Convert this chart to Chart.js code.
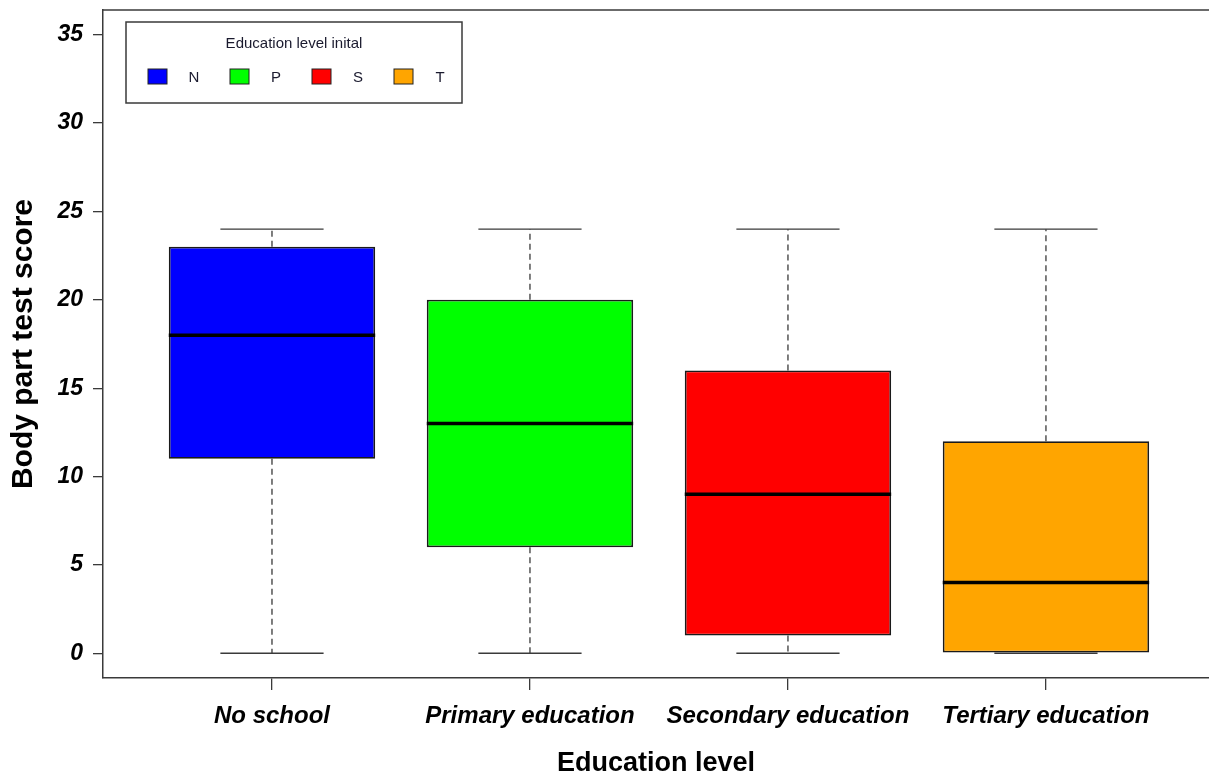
<!DOCTYPE html>
<html>
<head>
<meta charset="utf-8">
<script src="https://cdn.jsdelivr.net/npm/chart.js@4.4.1/dist/chart.umd.min.js"></script>
<style>
html, body { margin: 0; padding: 0; background: #fff; overflow: hidden; }
#wrap { width: 1209px; height: 780px; }
</style>
</head>
<body>
<div id="wrap"><canvas id="box"></canvas></div>
<script>
const categories = ["No school", "Primary education", "Secondary education", "Tertiary education"];
const initials = ["N", "P", "S", "T"];
const whiskerLow = [0, 0, 0, 0];
const lowerQuartile = [11, 6, 1, 0];
const medians = [18, 13, 9, 4];
const upperQuartile = [23, 20, 16, 12];
const whiskerHigh = [24, 24, 24, 24];
const yTicks = [0, 5, 10, 15, 20, 25, 30, 35];
const boxColors = ["#0000ff", "#00ff00", "#ff0000", "#ffa500"];
const legendTitle = "Education level inital";

const font = "'Liberation Sans', Arial, sans-serif";
const lineCol = "#3a3a3a";

// whiskers, medians, frame top and the legend box
const boxExtras = {
    id: "boxExtras",
    beforeDatasetsDraw(chart) {
        const { ctx, scales: { x, y } } = chart;
        const bars = chart.getDatasetMeta(0).data;
        ctx.save();
        ctx.strokeStyle = lineCol;
        ctx.lineWidth = 1.3;
        categories.forEach((c, i) => {
            const px = x.getPixelForValue(i + 1);
            const capHalf = bars[i].width / 4;
            ctx.setLineDash([6, 4]);
            ctx.beginPath();
            ctx.moveTo(px, y.getPixelForValue(lowerQuartile[i]));
            ctx.lineTo(px, y.getPixelForValue(whiskerLow[i]));
            ctx.moveTo(px, y.getPixelForValue(upperQuartile[i]));
            ctx.lineTo(px, y.getPixelForValue(whiskerHigh[i]));
            ctx.stroke();
            ctx.setLineDash([]);
            ctx.beginPath();
            [whiskerLow[i], whiskerHigh[i]].forEach(v => {
                const py = y.getPixelForValue(v);
                ctx.moveTo(px - capHalf, py);
                ctx.lineTo(px + capHalf, py);
            });
            ctx.stroke();
        });
        ctx.restore();
    },
    afterDatasetsDraw(chart) {
        const { ctx, scales: { x, y } } = chart;
        const bars = chart.getDatasetMeta(0).data;
        ctx.save();
        ctx.strokeStyle = "#000";
        ctx.lineWidth = 3.5;
        medians.forEach((m, i) => {
            const px = x.getPixelForValue(i + 1);
            const half = bars[i].width / 2;
            const py = y.getPixelForValue(m);
            ctx.beginPath();
            ctx.moveTo(px - half, py);
            ctx.lineTo(px + half, py);
            ctx.stroke();
        });
        ctx.restore();
    },
    afterDraw(chart) {
        const { ctx, chartArea: a } = chart;
        ctx.save();
        ctx.strokeStyle = lineCol;
        ctx.lineWidth = 1.5;
        ctx.beginPath();
        ctx.moveTo(a.left, a.top);
        ctx.lineTo(a.right, a.top);
        ctx.stroke();

        // legend
        const lx = a.left + 23, ly = a.top + 12, lw = 336, lh = 81;
        ctx.fillStyle = "#fff";
        ctx.fillRect(lx, ly, lw, lh);
        ctx.strokeRect(lx, ly, lw, lh);
        ctx.fillStyle = "#1a1a2e";
        ctx.font = "15px " + font;
        ctx.textAlign = "center";
        ctx.textBaseline = "middle";
        ctx.fillText(legendTitle, lx + 168, ly + 22);
        initials.forEach((t, i) => {
            const sx = lx + 22 + i * 82;
            ctx.fillStyle = boxColors[i];
            ctx.fillRect(sx, ly + 47, 19, 15);
            ctx.strokeStyle = "#222";
            ctx.lineWidth = 1;
            ctx.strokeRect(sx, ly + 47, 19, 15);
            ctx.fillStyle = "#1a1a2e";
            ctx.fillText(t, sx + 46, ly + 56);
        });
        ctx.restore();
    }
};

new Chart(document.getElementById("box"), {
    type: "bar",
    data: {
        datasets: [{
            data: categories.map((c, i) => ({ x: i + 1, y: [lowerQuartile[i], upperQuartile[i]] })),
            backgroundColor: boxColors,
            borderColor: "#1a1a1a",
            borderWidth: 1.8,
            borderSkipped: false,
            categoryPercentage: 1,
            barPercentage: 0.8
        }]
    },
    options: {
        responsive: true,
        maintainAspectRatio: false,
        animation: false,
        layout: { padding: { top: 10, right: 0, left: 0, bottom: 0 } },
        plugins: { legend: { display: false }, tooltip: { enabled: false } },
        scales: {
            x: {
                type: "linear",
                min: 0.345,
                max: 4.632,
                offset: false,
                afterBuildTicks: scale => { scale.ticks = categories.map((c, i) => ({ value: i + 1 })); },
                afterFit: scale => { scale.height = 102; scale.paddingLeft = 0; scale.paddingRight = 0; },
                grid: { offset: false, drawOnChartArea: false, drawTicks: true, tickLength: 12, color: lineCol, lineWidth: 1.3 },
                border: { display: true, color: lineCol, width: 1.5 },
                ticks: {
                    callback: v => categories[v - 1],
                    color: "#000",
                    padding: 12,
                    maxRotation: 0,
                    autoSkip: false,
                    font: { family: font, size: 24, weight: "bold", style: "italic" }
                },
                title: {
                    display: true,
                    text: "Education level",
                    color: "#000",
                    padding: { top: 0, bottom: 0 },
                    font: { family: font, size: 27, weight: "bold" }
                }
            },
            y: {
                min: -1.4,
                max: 36.4,
                afterBuildTicks: scale => { scale.ticks = yTicks.map(v => ({ value: v })); },
                afterFit: scale => { scale.width = 103; scale.paddingTop = 0; scale.paddingBottom = 0; },
                grid: { drawOnChartArea: false, drawTicks: true, tickLength: 10, color: lineCol, lineWidth: 1.3 },
                border: { display: true, color: lineCol, width: 1.5 },
                ticks: {
                    color: "#000",
                    padding: 10,
                    font: { family: font, size: 23, weight: "bold", style: "italic" }
                },
                title: {
                    display: true,
                    text: "Body part test score",
                    color: "#000",
                    padding: { top: 6, bottom: 0 },
                    font: { family: font, size: 30, weight: "bold" }
                }
            }
        }
    },
    plugins: [boxExtras]
});
</script>
</body>
</html>
